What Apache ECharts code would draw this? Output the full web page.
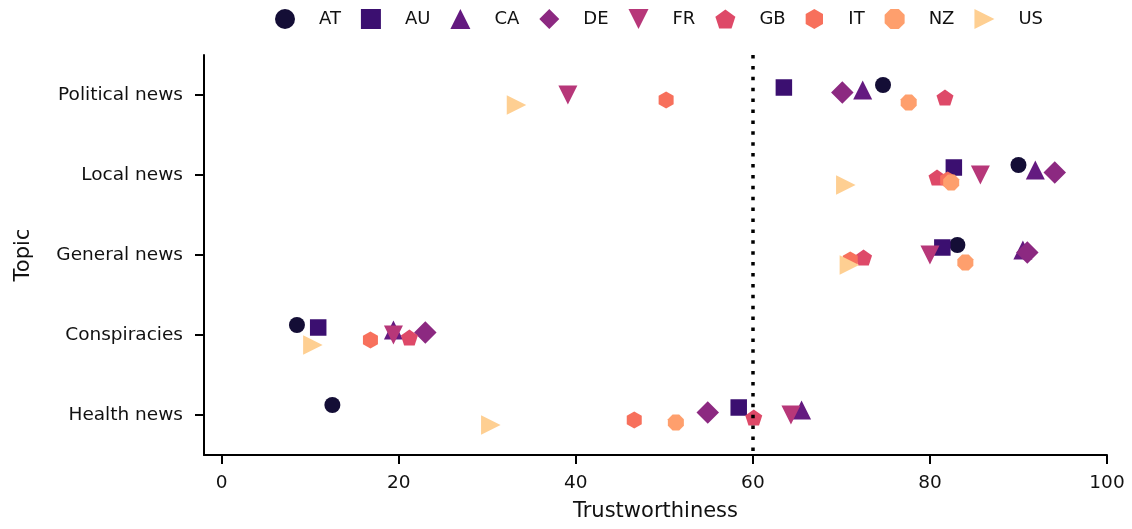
<!DOCTYPE html>
<html>
<head>
<meta charset="utf-8">
<script src="https://cdn.jsdelivr.net/npm/echarts@6/dist/echarts.min.js"></script>
<style>
  html, body { margin: 0; padding: 0; background: #ffffff; }
  #chart { width: 1132px; height: 529px; }
</style>
</head>
<body>
<div id="chart"></div>
<script>
// Topics (rows, top to bottom) and countries (hue levels)
const topics = ['Political news', 'Local news', 'General news', 'Conspiracies', 'Health news'];
const countries = ['AT', 'AU', 'CA', 'DE', 'FR', 'GB', 'IT', 'NZ', 'US'];
const xTicks = [0, 20, 40, 60, 80, 100];
const threshold = 60;

// Trustworthiness per topic, in the order of `topics`
const AT = [74.7, 90.0, 83.1, 8.5, 12.5];
const AU = [63.5, 82.7, 81.4, 10.9, 58.4];
const CA = [72.4, 91.9, 90.5, 19.4, 65.5];
const DE = [70.1, 94.1, 91.0, 23.0, 54.9];
const FR = [39.1, 85.7, 80.0, 19.4, 64.3];
const GB = [81.7, 80.8, 72.5, 21.2, 60.1];
const IT = [50.2, 82.0, 71.0, 16.8, 46.6];
const NZ = [77.6, 82.4, 84.0, null, 51.3];
const US = [33.3, 70.5, 70.9, 10.3, 30.4];

const values = { AT, AU, CA, DE, FR, GB, IT, NZ, US };

// magma palette, one colour per country
const colors = ['#140e36', '#3b0f70', '#641a80', '#8c2981', '#b73779',
                '#de4968', '#f7705c', '#fe9f6d', '#fecf92'];

// marker shapes
const diamond = 'path://M1,0 L2,1 L1,2 L0,1 Z';
const pentagon = 'path://M0,-1 L0.951,-0.309 L0.588,0.809 L-0.588,0.809 L-0.951,-0.309 Z';
const hexagon = 'path://M0,-1 L0.866,-0.5 L0.866,0.5 L0,1 L-0.866,0.5 L-0.866,-0.5 Z';
const octagon = 'path://M0.383,-0.924 L0.924,-0.383 L0.924,0.383 L0.383,0.924 L-0.383,0.924 L-0.924,0.383 L-0.924,-0.383 L-0.383,-0.924 Z';
const triDown = 'path://M0,0 L2,0 L1,2 Z';
const triRight = 'path://M0,0 L2,1 L0,2 Z';

const symbols = ['circle', 'rect', 'triangle', diamond, triDown, pentagon, hexagon, octagon, triRight];
const sizes = [[16, 16], [16.5, 16.5], [19, 19], [22.5, 22.5], [19, 19], [17, 16], [15, 17], [16, 16], [19.5, 19.5]];

// dodge each country within its topic row
const dodge = 0.25;
const offsetOf = k => -dodge / 2 + dodge * k / (countries.length - 1);

const font = 'DejaVu Sans';

const series = countries.map((c, k) => ({
  name: c,
  type: 'scatter',
  symbol: symbols[k],
  symbolSize: sizes[k],
  itemStyle: { color: colors[k], opacity: 1 },
  emphasis: { disabled: true },
  data: values[c]
    .map((v, i) => (v == null ? null : [v, i + offsetOf(k)]))
    .filter(d => d !== null)
}));

// reference line drawn above the markers
series.push({
  name: 'threshold',
  type: 'scatter',
  data: [],
  z: 10,
  markLine: {
    silent: true,
    symbol: ['none', 'none'],
    label: { show: false },
    lineStyle: { color: '#000000', type: [3.5, 7.4], width: 3.5, cap: 'butt' },
    data: [{ xAxis: threshold }]
  }
});

const chart = echarts.init(document.getElementById('chart'), null, { renderer: 'canvas' });
chart.setOption({
  animation: false,
  backgroundColor: '#ffffff',
  textStyle: { fontFamily: font },
  grid: { left: 204, right: 25, top: 55, bottom: 74, containLabel: false },
  legend: {
    data: countries.map((c, k) => ({ name: c, icon: symbols[k] })),
    left: 275,
    top: 9,
    padding: 0,
    itemWidth: 20,
    itemHeight: 20,
    itemGap: 20,
    textStyle: { fontFamily: font, fontSize: 18, color: '#111', padding: [0, 0, 0, 19] },
    selectedMode: false
  },
  xAxis: {
    type: 'value',
    min: -2,
    max: 100,
    name: 'Trustworthiness',
    nameLocation: 'middle',
    nameGap: 46,
    nameTextStyle: { fontFamily: font, fontSize: 21, color: '#111' },
    axisLine: { show: true, onZero: false, lineStyle: { color: '#000', width: 2 } },
    axisTick: { show: true, length: 9, lineStyle: { color: '#000', width: 2 }, customValues: xTicks },
    axisLabel: { fontFamily: font, fontSize: 18.5, color: '#111', margin: 19, customValues: xTicks },
    splitLine: { show: false }
  },
  yAxis: {
    type: 'value',
    inverse: true,
    min: -0.5,
    max: 4.5,
    name: 'Topic',
    nameLocation: 'middle',
    nameGap: 170,
    nameTextStyle: { fontFamily: font, fontSize: 21, color: '#111' },
    axisLine: { show: true, onZero: false, lineStyle: { color: '#000', width: 2 } },
    axisTick: { show: true, length: 9, lineStyle: { color: '#000', width: 2 }, customValues: topics.map((t, i) => i) },
    axisLabel: {
      fontFamily: font, fontSize: 18.5, color: '#111', margin: 21,
      customValues: topics.map((t, i) => i),
      formatter: v => topics[Math.round(v)]
    },
    splitLine: { show: false }
  },
  series
});
</script>
</body>
</html>
